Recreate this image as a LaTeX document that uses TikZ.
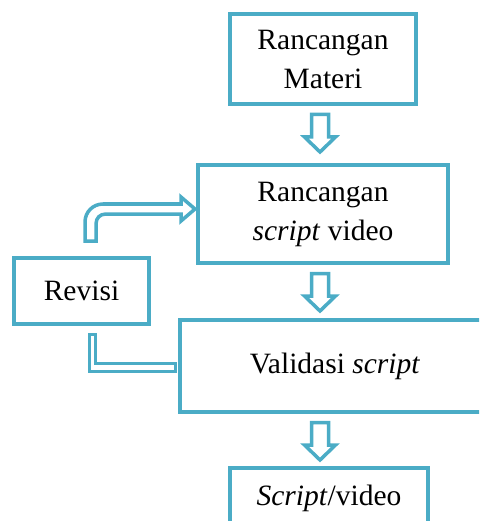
\documentclass[tikz,border=0pt]{standalone}
\usepackage{fontspec}
\setmainfont{Liberation Serif}
\usetikzlibrary{calc}
\definecolor{acc}{RGB}{75,172,198}
\newcommand\dnarrow[2]{%
  \draw[blk] ($(#1.south)+(#2-8.5,8.5)$) -- ($(#1.south)+(#2+8.5,8.5)$)
    -- ($(#1.south)+(#2+8.5,31)$) -- ($(#1.south)+(#2+15.5,31)$)
    -- ($(#1.south)+(#2,46)$) -- ($(#1.south)+(#2-15.5,31)$)
    -- ($(#1.south)+(#2-8.5,31)$) -- cycle;}
\begin{document}
\begin{tikzpicture}[x=1pt,y=-1pt,
  box/.style={draw=acc,line width=4pt,rectangle,align=center,inner sep=0pt,
    font=\fontsize{29.5}{39}\selectfont},
  blk/.style={draw=acc,line width=3.5pt,fill=white,line join=miter}]
\useasboundingbox (0,0) rectangle (479,521);
\clip (0,0) rectangle (479,521);
\node[box,minimum width=186pt,minimum height=90pt] (rm) at (323,59) {Rancangan\\Materi};
\node[box,minimum width=250pt,minimum height=98pt] (rs) at (323,214) {Rancangan\\\textit{script} video};
\node[box,minimum width=310pt,minimum height=92pt] (vs) at (335,366) {Validasi \textit{script}};
\node[box,minimum width=198pt,minimum height=60pt] (sv) at (329,498) {\textit{Script}/video};
\node[box,minimum width=135pt,minimum height=66pt] (rv) at (81.5,291) {Revisi};
\dnarrow{rm}{-3}
\dnarrow{rs}{-3}
\dnarrow{vs}{-15}
\begin{scope}[shift={(rv.north)}]
\draw[blk] (3.5,-15) -- (3.5,-34) .. controls (3.5,-44) and (11.5,-52) .. (21.5,-52)
  -- (99.5,-52) -- (99.5,-59) -- (113.5,-47) -- (99.5,-35) -- (99.5,-42)
  -- (24.5,-42) .. controls (18.5,-42) and (14.5,-38) .. (14.5,-32) -- (14.5,-15) -- cycle;
\end{scope}
\begin{scope}[shift={(rv.south)}]
\draw[blk,line width=3pt] (7.5,8) -- (7.5,45) -- (93.5,45) -- (93.5,37) -- (13.5,37) -- (13.5,8) -- cycle;
\end{scope}
\end{tikzpicture}
\end{document}
